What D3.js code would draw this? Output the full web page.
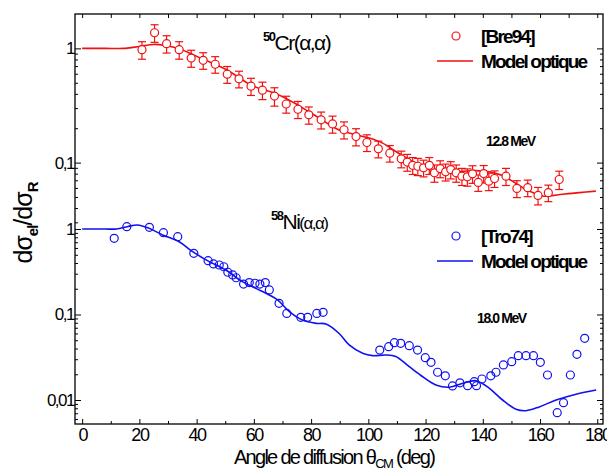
<!DOCTYPE html>
<html>
<head>
<meta charset="utf-8">
<script src="https://cdn.jsdelivr.net/npm/d3@7"></script>
<style>
  body { margin: 0; background: #fff; }
  text { font-family: "Liberation Sans", Arial, sans-serif; fill: #000; }
</style>
</head>
<body>
<div id="chart"></div>
<script>
// 50Cr(a,a) 12.8 MeV, data [Bre94]
const crAngle = [20.9, 25.3, 29.5, 33.9, 38.1, 42.3, 46.5, 50.7, 54.8, 59.0, 63.0, 67.2, 71.3, 75.4, 79.2, 83.5, 87.5,
  91.5, 95.7, 99.5, 103.5, 107.5, 111.5, 113.6, 115.5, 117.3, 119.3, 121.3, 123.1, 125.1, 127.0, 128.8, 130.7,
  132.7, 134.6, 136.4, 138.4, 140.3, 142.1, 144.1, 148.1, 151.9, 155.7, 159.3, 162.9, 166.7];
const crVal = [0.974, 1.37, 1.10, 0.974, 0.823, 0.786, 0.726, 0.594, 0.541, 0.467, 0.431, 0.382, 0.326, 0.293, 0.262,
  0.237, 0.218, 0.194, 0.169, 0.150, 0.132, 0.121, 0.108, 0.101, 0.0947, 0.0929, 0.090, 0.0947, 0.0813, 0.0887,
  0.083, 0.0869, 0.0813, 0.076, 0.0751, 0.0798, 0.067, 0.0802, 0.0688, 0.0726, 0.076, 0.0594, 0.0603, 0.0516,
  0.0545, 0.0711];
const crErr = [0.17, 0.24, 0.19, 0.17, 0.14, 0.13, 0.12, 0.10, 0.09, 0.08, 0.075, 0.07, 0.055, 0.05, 0.045, 0.04,
  0.037, 0.033, 0.029, 0.025, 0.022, 0.02, 0.018, 0.017, 0.016, 0.016, 0.015, 0.016, 0.014, 0.015, 0.014, 0.015,
  0.014, 0.013, 0.013, 0.014, 0.011, 0.014, 0.012, 0.012, 0.013, 0.010, 0.010, 0.009, 0.009, 0.013];
// optical model 50Cr
const crModelAngle = [0, 8, 15, 20, 25, 29, 33.9, 41.6, 50.7, 59, 63, 67.2, 75.4, 79.3, 83.5, 86.3, 89.8, 95.7,
  100.3, 105, 109.6, 114.3, 119, 123.6, 128.3, 133, 137.6, 142.3, 146.9, 151.6, 156.2, 160.9, 163.2, 167.9, 173.7, 179.5];
const crModelVal = [1.0, 1.0, 1.0, 1.04, 1.083, 1.06, 0.994, 0.818, 0.644, 0.477, 0.437, 0.406, 0.319, 0.278, 0.240,
  0.215, 0.193, 0.175, 0.164, 0.148, 0.125, 0.106, 0.0908, 0.0839, 0.0822, 0.0839, 0.0851, 0.083, 0.077, 0.0657,
  0.0563, 0.051, 0.051, 0.0528, 0.0546, 0.0563];

// 58Ni(a,a) 18.0 MeV, data [Tro74]
const niAngle = [11.2, 15.6, 23.5, 28.4, 33.4, 39.0, 44.0, 45.9, 47.9, 49.5, 50.9, 52.6, 53.8, 56.4, 58.4, 60.4, 62.1,
  64.0, 65.4, 68.8, 71.5, 76.4, 78.8, 82.0, 84.2, 104.0, 107.1, 109.1, 111.3, 114.3, 117.2, 119.9, 121.9, 124.2,
  126.9, 129.4, 132.0, 134.7, 137.0, 137.8, 139.7, 142.8, 144.6, 147.2, 150.1, 152.4, 155.1, 157.7, 160.1, 162.6,
  166.0, 168.2, 170.6, 172.9, 175.6];
const niVal = [0.778, 1.064, 1.047, 0.905, 0.813, 0.520, 0.426, 0.390, 0.379, 0.362, 0.312, 0.290, 0.269, 0.227,
  0.236, 0.232, 0.227, 0.236, 0.194, 0.135, 0.103, 0.0927, 0.0927, 0.103, 0.106, 0.0384, 0.042, 0.0468, 0.046,
  0.0432, 0.0384, 0.0313, 0.0276, 0.0211, 0.0192, 0.0146, 0.0159, 0.0147, 0.0164, 0.0147, 0.0176, 0.0192, 0.0211,
  0.0257, 0.0281, 0.033, 0.033, 0.033, 0.0276, 0.0196, 0.0071, 0.0093, 0.0196, 0.0342, 0.0527];
// optical model 58Ni
const niModelAngle = [0, 8, 12, 16, 19.3, 23.4, 28.1, 33.9, 38.6, 44.4, 50.2, 56, 60.7, 65.4, 68.3, 72.4, 77, 81.7,
  85.2, 89.8, 93.3, 98, 101.5, 106.1, 109.6, 114.3, 119, 123.6, 128.3, 133, 137.6, 142.3, 146.9, 151.6, 155.1,
  159.7, 165.6, 172.6, 179.6];
const niModelVal = [1.0, 1.0, 1.0, 1.07, 1.114, 1.02, 0.851, 0.710, 0.543, 0.415, 0.331, 0.242, 0.202, 0.169, 0.148,
  0.108, 0.086, 0.0788, 0.0775, 0.06, 0.044, 0.0352, 0.033, 0.0336, 0.0322, 0.0245, 0.0187, 0.015, 0.0141, 0.0157,
  0.0168, 0.0137, 0.0100, 0.0078, 0.0075, 0.0083, 0.0100, 0.0117, 0.0131];

const xTicks = [0, 20, 40, 60, 80, 100, 120, 140, 160, 180];
const xMinorTicks = [10, 30, 50, 70, 90, 110, 130, 150, 170];
const topMajor = [1, 0.1];
const botMajor = [1, 0.1, 0.01];

var red = "#f01010";
var blue = "#1010f0";

var W = 607, H = 473;
// frame: left, right, top, split between panels, bottom
var fr = { l: 75, r: 603, t: 14, s: 224, b: 424 };

var svg = d3.select("#chart")
  .append("svg")
  .attr("width", W)
  .attr("height", H);

var x = d3.scaleLinear().domain([-2.5, 182]).range([fr.l, fr.r]);
var yTop = d3.scaleLog().domain([0.029, 2]).range([fr.s, fr.t]);
var yBot = d3.scaleLog().domain([0.00524, 1.144]).range([fr.b, fr.s]);

// minor log ticks for a scale
function minorTicks(scale) {
  var d = scale.domain();
  var out = [];
  for (var e = -3; e <= 0; e++) {
    for (var m = 2; m <= 9; m++) {
      var v = m * Math.pow(10, e);
      if (v > d[0] && v < d[1]) out.push(v);
    }
  }
  return out;
}
function fmt(v) {
  return v >= 1 ? "1" : String(v).replace(".", ",");
}

// left + right axes, ticks inside
[[yTop, topMajor], [yBot, botMajor]].forEach(function (p) {
  var sc = p[0];
  svg.append("g")
    .attr("transform", "translate(" + fr.l + ",0)")
    .call(d3.axisLeft(sc).tickValues(minorTicks(sc)).tickSize(-3).tickFormat(""));
  svg.append("g")
    .attr("class", "ylab")
    .attr("transform", "translate(" + fr.l + ",0)")
    .call(d3.axisLeft(sc).tickValues(p[1]).tickSize(-6).tickPadding(1).tickFormat(fmt));
  svg.append("g")
    .attr("transform", "translate(" + fr.r + ",0)")
    .call(d3.axisRight(sc).tickValues(minorTicks(sc)).tickSize(-3).tickFormat(""));
  svg.append("g")
    .attr("transform", "translate(" + fr.r + ",0)")
    .call(d3.axisRight(sc).tickValues(p[1]).tickSize(-6).tickFormat(""));
});

// x axes
svg.append("g")
  .attr("class", "xlab")
  .attr("transform", "translate(0," + fr.b + ")")
  .call(d3.axisBottom(x).tickValues(xTicks).tickSize(-5).tickPadding(4));
svg.append("g")
  .attr("transform", "translate(0," + fr.b + ")")
  .call(d3.axisBottom(x).tickValues(xMinorTicks).tickSize(-3).tickFormat(""));
svg.append("g")
  .attr("transform", "translate(0," + fr.t + ")")
  .call(d3.axisTop(x).tickValues(xTicks.concat(xMinorTicks)).tickSize(-4).tickFormat(""));

svg.selectAll(".domain").remove();
svg.selectAll(".tick line").attr("stroke", "#000").attr("stroke-width", 1);
svg.selectAll(".ylab text")
  .style("font-size", "17px")
  .style("letter-spacing", "-1.5px")
  .attr("fill", "#000");
svg.selectAll(".xlab text")
  .style("font-size", "18px")
  .style("letter-spacing", "-1.5px")
  .attr("fill", "#000");

// frame
svg.append("rect")
  .attr("x", fr.l).attr("y", fr.t)
  .attr("width", fr.r - fr.l).attr("height", fr.b - fr.t)
  .attr("fill", "none").attr("stroke", "#000").attr("stroke-width", 1.3);

var plot = svg.append("g");

function drawModel(angles, vals, sc, color) {
  var line = d3.line()
    .x((d) => x(d[0]))
    .y((d) => sc(d[1]))
    .curve(d3.curveCatmullRom.alpha(0.5));
  plot.append("path")
    .datum(angles.map((a, i) => [a, vals[i]]))
    .attr("d", line)
    .attr("fill", "none")
    .attr("stroke", color)
    .attr("stroke-width", 1.6);
}

drawModel(crModelAngle, crModelVal, yTop, red);
drawModel(niModelAngle, niModelVal, yBot, blue);

// error bars (top)
var crData = crAngle.map((a, i) => ({ a: a, v: crVal[i], e: crErr[i] }));
var eb = plot.selectAll(".eb").data(crData).enter().append("g")
  .attr("stroke", red).attr("stroke-width", 1.2);
eb.append("line")
  .attr("x1", (d) => x(d.a)).attr("x2", (d) => x(d.a))
  .attr("y1", (d) => yTop(d.v + d.e)).attr("y2", (d) => yTop(d.v - d.e));
eb.append("line")
  .attr("x1", (d) => x(d.a) - 4).attr("x2", (d) => x(d.a) + 4)
  .attr("y1", (d) => yTop(d.v + d.e)).attr("y2", (d) => yTop(d.v + d.e));
eb.append("line")
  .attr("x1", (d) => x(d.a) - 4).attr("x2", (d) => x(d.a) + 4)
  .attr("y1", (d) => yTop(d.v - d.e)).attr("y2", (d) => yTop(d.v - d.e));

plot.selectAll(".cr").data(crData).enter().append("circle")
  .attr("cx", (d) => x(d.a))
  .attr("cy", (d) => yTop(d.v))
  .attr("r", 4)
  .attr("fill", "#fff")
  .attr("stroke", red)
  .attr("stroke-width", 1.2);

plot.selectAll(".ni").data(niAngle.map((a, i) => [a, niVal[i]])).enter().append("circle")
  .attr("cx", (d) => x(d[0]))
  .attr("cy", (d) => yBot(d[1]))
  .attr("r", 4)
  .attr("fill", "none")
  .attr("stroke", blue)
  .attr("stroke-width", 1.2);

// legends
function legend(y0, label, color) {
  svg.append("circle")
    .attr("cx", 456).attr("cy", y0).attr("r", 4)
    .attr("fill", "none").attr("stroke", color).attr("stroke-width", 1.2);
  svg.append("text")
    .attr("x", 481).attr("y", y0 + 7)
    .style("font-size", "19px").style("font-weight", "bold").style("letter-spacing", "-1.8px")
    .text(label);
  svg.append("line")
    .attr("x1", 437).attr("x2", 473).attr("y1", y0 + 25).attr("y2", y0 + 25)
    .attr("stroke", color).attr("stroke-width", 1.6);
  svg.append("text")
    .attr("x", 481).attr("y", y0 + 32)
    .style("font-size", "19px").style("font-weight", "bold").style("letter-spacing", "-1.8px")
    .text("Model optique");
}
legend(36, "[Bre94]", red);
legend(236, "[Tro74]", blue);

// energies
svg.append("text").attr("x", 486).attr("y", 146)
  .style("font-size", "14px").style("font-weight", "bold").style("letter-spacing", "-1.4px")
  .text("12.8 MeV");
svg.append("text").attr("x", 477).attr("y", 323)
  .style("font-size", "14px").style("font-weight", "bold").style("letter-spacing", "-1.4px")
  .text("18.0 MeV");

// reaction labels
function reaction(x0, y0, mass, el, small) {
  var t = svg.append("text").attr("x", x0).attr("y", y0)
    .style("font-size", "21px").style("letter-spacing", "-1.5px");
  t.append("tspan").attr("dy", -9).style("font-size", "13px").style("font-weight", "bold").text(mass);
  t.append("tspan").attr("dy", 9).text(el);
  t.append("tspan").style("font-size", small ? "17px" : "21px").text("(α,α)");
}
reaction(263, 50, "50", "Cr", false);
reaction(271, 229, "58", "Ni", true);

// y title
var yt = svg.append("text")
  .attr("transform", "translate(32,223) rotate(-90)")
  .attr("text-anchor", "middle")
  .style("font-size", "25px").style("letter-spacing", "-1px");
yt.append("tspan").text("dσ");
yt.append("tspan").attr("dy", 6).style("font-size", "15px").style("font-weight", "bold").text("el");
yt.append("tspan").attr("dy", -6).text("/dσ");
yt.append("tspan").attr("dy", 6).style("font-size", "15px").style("font-weight", "bold").text("R");

// x title
var xt = svg.append("text")
  .attr("x", 334).attr("y", 464)
  .attr("text-anchor", "middle")
  .style("font-size", "20px").style("letter-spacing", "-1.7px");
xt.append("tspan").text("Angle de diffusion θ");
xt.append("tspan").attr("dy", 4).style("font-size", "13px").text("CM");
xt.append("tspan").attr("dy", -4).text(" (deg)");
</script>
</body>
</html>
